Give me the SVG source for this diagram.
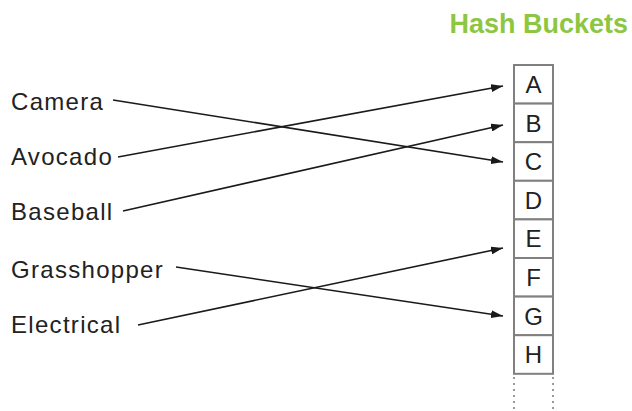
<svg xmlns="http://www.w3.org/2000/svg" width="632" height="411" viewBox="0 0 632 411">
<style>
.lbl{font-family:"Liberation Sans",Arial,sans-serif;font-size:24px;fill:#222;letter-spacing:1.3px}
.bk{font-family:"Liberation Sans",Arial,sans-serif;font-size:24px;fill:#222;text-anchor:middle}
.box{fill:#fff;stroke:#808080;stroke-width:2}
.ln{stroke:#1a1a1a;stroke-width:1.6;fill:none;marker-end:url(#ah)}
.dot{stroke:#999;stroke-width:2;stroke-dasharray:2 4}
</style>
<defs>
<marker id="ah" viewBox="0 0 12 8" refX="12" refY="4" markerWidth="12" markerHeight="8" markerUnits="userSpaceOnUse" orient="auto">
<path d="M0,0 L12,4 L0,8 z" fill="#1a1a1a"/>
</marker>
</defs>
<rect width="632" height="411" fill="#fff"/>
<text x="628" y="33" text-anchor="end" font-family="Liberation Sans,Arial,sans-serif" font-weight="bold" font-size="27" fill="#8dc63f">Hash Buckets</text>
<g id="buckets">
<g id="A"><rect class="box" x="514" y="65" width="39" height="38.6"/><text class="bk" x="533.5" y="93">A</text></g>
<g id="B"><rect class="box" x="514" y="103.6" width="39" height="38.6"/><text class="bk" x="533.5" y="131.6">B</text></g>
<g id="C"><rect class="box" x="514" y="142.2" width="39" height="38.6"/><text class="bk" x="533.5" y="170.2">C</text></g>
<g id="D"><rect class="box" x="514" y="180.8" width="39" height="38.6"/><text class="bk" x="533.5" y="208.8">D</text></g>
<g id="E"><rect class="box" x="514" y="219.4" width="39" height="38.6"/><text class="bk" x="533.5" y="247.4">E</text></g>
<g id="F"><rect class="box" x="514" y="258" width="39" height="38.6"/><text class="bk" x="533.5" y="286">F</text></g>
<g id="G"><rect class="box" x="514" y="296.6" width="39" height="38.6"/><text class="bk" x="533.5" y="324.6">G</text></g>
<g id="H"><rect class="box" x="514" y="335.2" width="39" height="38.6"/><text class="bk" x="533.5" y="363.2">H</text></g>
<line class="dot" x1="514" y1="377" x2="514" y2="411"/>
<line class="dot" x1="553" y1="377" x2="553" y2="411"/>
</g>
<g id="camera"><text class="lbl" x="11" y="110">Camera</text></g>
<g id="avocado"><text class="lbl" x="11" y="165">Avocado</text></g>
<g id="baseball"><text class="lbl" x="11" y="220">Baseball</text></g>
<g id="grasshopper"><text class="lbl" x="11" y="278">Grasshopper</text></g>
<g id="electrical"><text class="lbl" x="11" y="333">Electrical</text></g>
<g id="connectors">
<line class="ln" x1="113" y1="100" x2="503" y2="162"/>
<line class="ln" x1="118" y1="157" x2="503" y2="86"/>
<line class="ln" x1="123" y1="211" x2="503" y2="125"/>
<line class="ln" x1="176" y1="267" x2="503" y2="316"/>
<line class="ln" x1="138" y1="325" x2="503" y2="248"/>
</g>
</svg>
